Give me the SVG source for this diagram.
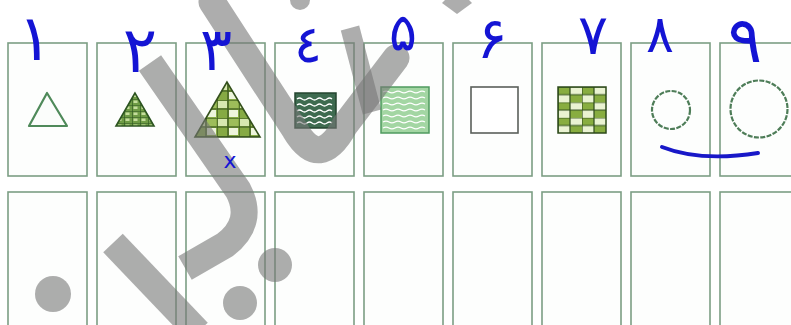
<svg xmlns="http://www.w3.org/2000/svg" width="791" height="325" viewBox="0 0 791 325">
<defs>
<style>
.box{fill:#fdfefd;stroke:#7c9e84;stroke-width:1.6}
.ink{fill:#1414d4;font-family:"DejaVu Sans",sans-serif;text-anchor:middle}
.wm{fill:none;stroke:#777777;stroke-opacity:0.6}
.wmf{fill:#777777;fill-opacity:0.6}
.wave{fill:none;stroke:#ffffff;stroke-width:1.3}
.ring{fill:none;stroke:#4e7d58;stroke-width:2.2;stroke-dasharray:5 1.4}
</style>
<pattern id="p2" width="8" height="6" patternUnits="userSpaceOnUse" x="116" y="93">
<rect width="8" height="6" fill="#6f9c45"/>
<rect x="1.5" y="1.5" width="4" height="2.5" fill="#c4dd9c"/>
<path d="M0,0H8M0,0V6" stroke="#2c5420" stroke-width="1.2"/>
</pattern>
<pattern id="p3" width="22" height="18" patternUnits="userSpaceOnUse" x="195" y="82">
<rect width="22" height="18" fill="#86aa44"/>
<rect x="1" y="1" width="9" height="7" fill="#d7e8b0"/>
<rect x="12" y="10" width="9" height="7" fill="#eef5dc"/>
<rect x="12" y="1" width="9" height="7" fill="#9dbd5a"/>
<path d="M0,0H22M0,9H22M0,0V18M11,0V18" stroke="#34501c" stroke-width="1.2"/>
</pattern>
<pattern id="p7" width="24" height="15.4" patternUnits="userSpaceOnUse" x="558" y="87">
<rect width="24" height="15.4" fill="#eaf3d2"/>
<rect x="0" y="0" width="12" height="7.7" fill="#88ad40"/>
<rect x="12" y="7.7" width="12" height="7.7" fill="#88ad40"/>
<path d="M0,0H24M0,7.7H24M0,0V15.4M12,0V15.4" stroke="#2d4a1a" stroke-width="1.2"/>
</pattern>
</defs>
<rect width="791" height="325" fill="#ffffff"/>

<g id="row-top">
<g id="c1"><rect class="box" x="8" y="43" width="79" height="133"/><path d="M47,93 L29,126 H67 Z" fill="#fbfdfb" stroke="#4f8a5a" stroke-width="2.2" stroke-linejoin="round"/></g>
<g id="c2"><rect class="box" x="97" y="43" width="79" height="133"/><path d="M135,93 L116,126 H154 Z" fill="url(#p2)" stroke="#2c5420" stroke-width="1.6"/></g>
<g id="c3"><rect class="box" x="186" y="43" width="79" height="133"/><path d="M227,82 L195,137 H260 Z" fill="url(#p3)" stroke="#34501c" stroke-width="1.6"/></g>
<g id="c4"><rect class="box" x="275" y="43" width="79" height="133"/><rect x="295" y="93" width="41" height="35" fill="#3e6b50" stroke="#24452f" stroke-width="1.5"/>
<path class="wave" d="M297,99 q2.5,-2 5,0 t5,0 t5,0 t5,0 t5,0 t5,0 t5,0 M297,105 q2.5,-2 5,0 t5,0 t5,0 t5,0 t5,0 t5,0 t5,0 M297,111 q2.5,-2 5,0 t5,0 t5,0 t5,0 t5,0 t5,0 t5,0 M297,117 q2.5,-2 5,0 t5,0 t5,0 t5,0 t5,0 t5,0 t5,0 M297,123 q2.5,-2 5,0 t5,0 t5,0 t5,0 t5,0 t5,0 t5,0"/></g>
<g id="c5"><rect class="box" x="364" y="43" width="79" height="133"/><rect x="381" y="87" width="48" height="46" fill="#a3d6a3" stroke="#4f9a5f" stroke-width="1.5"/>
<path class="wave" d="M383,92 q3,-1.6 6,0 t6,0 t6,0 t6,0 t6,0 t6,0 t6,0 M383,98 q3,-1.6 6,0 t6,0 t6,0 t6,0 t6,0 t6,0 t6,0 M383,104 q3,-1.6 6,0 t6,0 t6,0 t6,0 t6,0 t6,0 t6,0 M383,110 q3,-1.6 6,0 t6,0 t6,0 t6,0 t6,0 t6,0 t6,0 M383,116 q3,-1.6 6,0 t6,0 t6,0 t6,0 t6,0 t6,0 t6,0 M383,122 q3,-1.6 6,0 t6,0 t6,0 t6,0 t6,0 t6,0 t6,0 M383,128 q3,-1.6 6,0 t6,0 t6,0 t6,0 t6,0 t6,0 t6,0"/></g>
<g id="c6"><rect class="box" x="453" y="43" width="79" height="133"/><rect x="471" y="87" width="47" height="46" fill="#ffffff" stroke="#5a5f5a" stroke-width="1.6"/></g>
<g id="c7"><rect class="box" x="542" y="43" width="79" height="133"/><rect x="558" y="87" width="48" height="46" fill="url(#p7)" stroke="#2d4a1a" stroke-width="1.5"/></g>
<g id="c8"><rect class="box" x="631" y="43" width="79" height="133"/><circle class="ring" cx="671" cy="110" r="19"/></g>
<g id="c9"><rect class="box" x="720" y="43" width="79" height="133"/><circle class="ring" cx="759" cy="109" r="28.5"/></g>
</g>

<g id="row-bottom">
<rect class="box" x="8" y="192" width="79" height="140"/>
<rect class="box" x="97" y="192" width="79" height="140"/>
<rect class="box" x="186" y="192" width="79" height="140"/>
<rect class="box" x="275" y="192" width="79" height="140"/>
<rect class="box" x="364" y="192" width="79" height="140"/>
<rect class="box" x="453" y="192" width="79" height="140"/>
<rect class="box" x="542" y="192" width="79" height="140"/>
<rect class="box" x="631" y="192" width="79" height="140"/>
<rect class="box" x="720" y="192" width="79" height="140"/>
</g>

<g id="watermark">
<path class="wm" stroke-width="27" d="M150,63 L238,190 Q255,222 225,245 L185,268"/>
<path class="wm" stroke-width="27" d="M113,243 L198,332"/>
<path class="wm" stroke-width="27" stroke-linecap="round" d="M212,2 L295,130 Q320,172 345,125 L396,58"/>
<path class="wm" stroke-width="19" d="M350,28 L372,112"/>
<circle class="wmf" cx="53" cy="294" r="18"/>
<circle class="wmf" cx="240" cy="303" r="17"/>
<circle class="wmf" cx="275" cy="265" r="17"/>
<circle class="wmf" cx="300" cy="0" r="10"/>
<path class="wmf" d="M457,-12 L472,3 L457,14 L442,3 Z"/>
</g>

<g id="ink">
<text class="ink" x="35" y="60" font-size="64">۱</text>
<text class="ink" x="140" y="72" font-size="64">۲</text>
<text class="ink" x="216" y="70" font-size="60">۳</text>
<text class="ink" x="308" y="62" font-size="52">٤</text>
<text class="ink" x="403" y="50" font-size="52">۵</text>
<text class="ink" x="492" y="58" font-size="58">۶</text>
<text class="ink" x="593" y="54" font-size="56">۷</text>
<text class="ink" x="660" y="52" font-size="52">۸</text>
<text class="ink" x="745" y="62" font-size="64">۹</text>
<text class="ink" x="230" y="168" font-size="22">x</text>
<path d="M662,147 Q700,162 758,153" fill="none" stroke="#1818c8" stroke-width="4" stroke-linecap="round"/>
</g>
</svg>
